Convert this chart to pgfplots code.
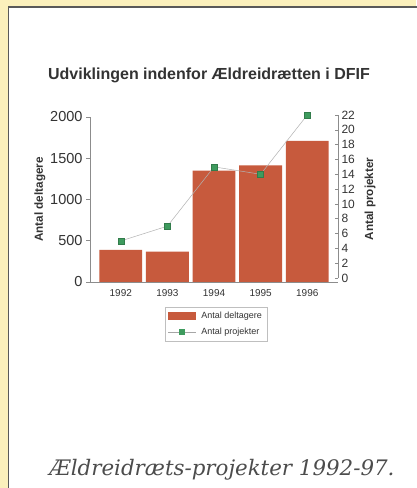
\documentclass[border=0pt]{standalone}
\usepackage{pgfplots}
\pgfplotsset{compat=1.18}
\usepackage{fontspec}
\setmainfont{Liberation Sans}
\newfontfamily\capfont{DejaVu Serif}
\definecolor{bg}{HTML}{FBF0BC}
\definecolor{barred}{HTML}{C75A3D}
\definecolor{mgreen}{HTML}{3E9B5E}
\definecolor{axgray}{HTML}{8C8C8C}
\definecolor{txt}{HTML}{333333}
\pgfplotsset{/pgf/number format/assume math mode=true, /pgf/number format/set thousands separator={}}
\begin{document}
\begin{tikzpicture}[x=1pt,y=1pt]
\useasboundingbox (0,0) rectangle (416,488);
\fill[bg] (0,0) rectangle (416,488);
\filldraw[fill=white, draw=black!65, line width=1.2pt] (8.5,-10) rectangle (430,481);
\node[font=\bfseries\fontsize{16}{19}\selectfont, text=txt] at (209,413) {Udviklingen indenfor Ældreidrætten i DFIF};
\node[text=black!70] at (222,18) {\resizebox{345pt}{!}{\capfont\itshape Ældreidræts-projekter 1992-97.}};
\begin{axis}[
  at={(120.8pt,206pt)}, anchor=origin,
  scale only axis, width=248pt, height=165pt,
  xmin=-0.66, xmax=4.66, ymin=0, ymax=2000,
  axis y line*=left, axis x line*=bottom,
  axis line style={axgray, line width=0.6pt},
  xtick={0,...,4}, xticklabels={1992,1993,1994,1995,1996},
  xtick style={draw=none},
  ytick={0,500,1000,1500,2000},
  ytick style={axgray, line width=0.6pt},
  major tick length=4pt, tick align=outside,
  yticklabel style={font=\fontsize{14.5}{16}\selectfont, text=txt},
  xticklabel style={font=\fontsize{10}{12}\selectfont, text=txt},
  ylabel={Antal deltagere},
  ylabel style={at={(axis description cs:-0.202,0.5)}, anchor=center, font=\bfseries\fontsize{11.7}{14}\selectfont, text=txt},
]
\addplot[ybar, bar width=0.92, fill=barred, draw=none] coordinates {(0,390)(1,367)(2,1350)(3,1415)(4,1710)};
\end{axis}
\begin{axis}[
  at={(120.8pt,210pt)}, anchor=origin,
  scale only axis, width=248pt, height=163pt,
  xmin=-0.66, xmax=4.66, ymin=0, ymax=22,
  axis y line*=right, axis x line=none,
  axis line style={axgray, line width=0.6pt},
  ytick={0,2,...,22},
  ytick style={axgray, line width=0.6pt},
  major tick length=3pt, tick align=inside,
  yticklabel style={font=\fontsize{12}{14}\selectfont, text=txt},
  ylabel={Antal projekter},
  ylabel style={at={(axis description cs:1.129,0.485)}, anchor=center, font=\bfseries\fontsize{11.7}{14}\selectfont, text=txt},
  clip=false,
  legend style={at={(rel axis cs:0.302,-0.178)}, anchor=north west, draw=black!25, font=\fontsize{9}{11}\selectfont, text=txt, inner xsep=3pt, inner ysep=3pt, row sep=4pt},
  legend cell align=left,
]
\addlegendimage{legend image code/.code={\fill[barred, draw=none] (0pt,-4pt) rectangle (28pt,4pt); \path[draw=none, fill=none] (0pt,0pt) -- (31pt,0pt);}}
\addlegendentry{Antal deltagere}
\addplot[color=black!30, line width=0.5pt, mark=square*, mark size=3pt, mark options={solid, fill=mgreen, draw=mgreen!80!black},
  legend image code/.code={\draw[black!35, line width=0.5pt] (0pt,0pt) -- (28pt,0pt); \fill[mgreen, draw=none] (11pt,-3pt) rectangle (17pt,3pt); \path[draw=none, fill=none] (0pt,0pt) -- (31pt,0pt);}]
  coordinates {(0,5)(1,7)(2,15)(3,14)(4,22)};
\addlegendentry{Antal projekter}
\end{axis}
\end{tikzpicture}
\end{document}
